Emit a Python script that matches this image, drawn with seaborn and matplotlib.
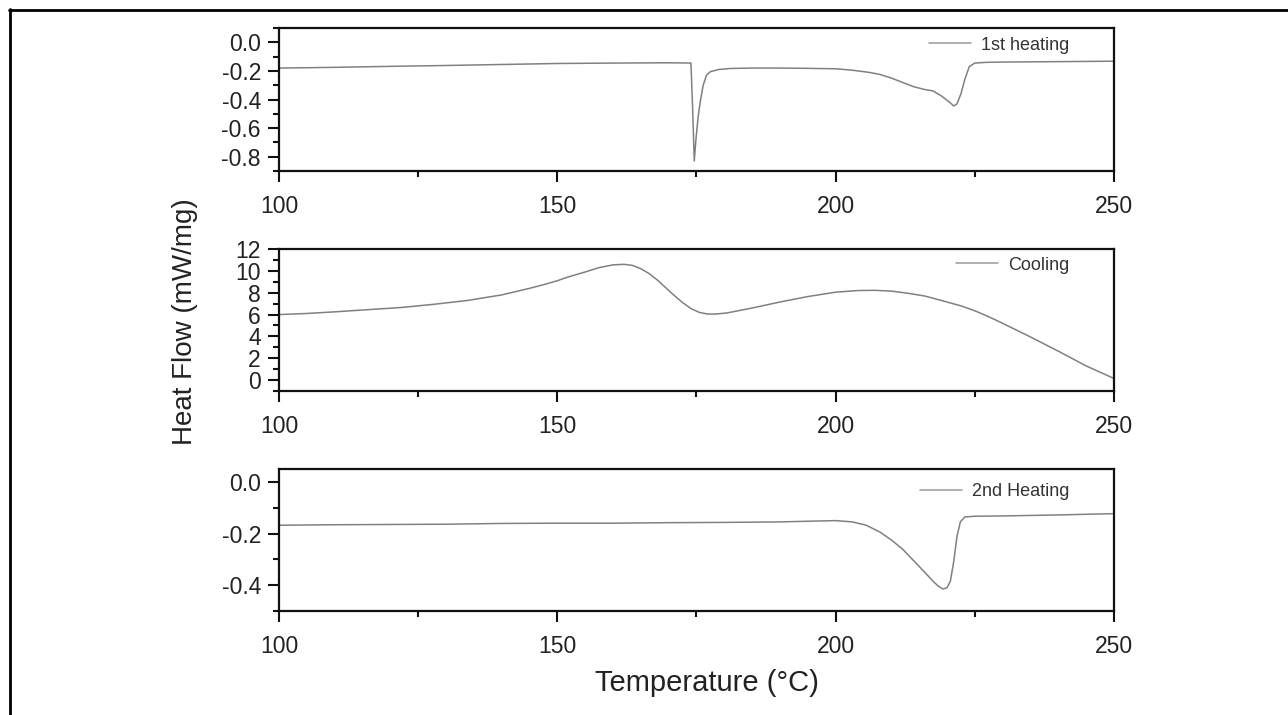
import matplotlib
matplotlib.use("Agg")
import matplotlib.pyplot as plt
from matplotlib.lines import Line2D
from matplotlib.ticker import MultipleLocator, FormatStrFormatter
import seaborn as sns
import pandas as pd

# ---------------- data ----------------
heat1_T = [100, 110, 120, 130, 140, 150, 160, 170, 174.0, 174.3, 174.6, 174.9, 175.3,
           175.7, 176.2, 176.8, 177.5, 179, 181, 185, 190, 195, 200, 203, 206, 208,
           210, 212, 214, 216, 217.5, 219, 220.5, 221.2, 221.8, 222.5, 223.2, 224,
           225, 227, 230, 240, 250]
heat1_HF = [-0.18, -0.175, -0.168, -0.162, -0.155, -0.148, -0.145, -0.143, -0.145, -0.45,
            -0.83, -0.68, -0.52, -0.41, -0.30, -0.23, -0.205, -0.19, -0.183, -0.18, -0.18,
            -0.182, -0.185, -0.195, -0.21, -0.225, -0.25, -0.28, -0.31, -0.33, -0.34,
            -0.375, -0.42, -0.445, -0.43, -0.36, -0.26, -0.17, -0.145, -0.14, -0.138,
            -0.135, -0.132]

cool_T = [100, 105, 110, 116, 122, 128, 134, 140, 145, 148, 150, 152, 155, 157.5, 160,
          162, 163.5, 165, 166.5, 168, 169.5, 171, 172.5, 174, 175.5, 177, 178.5, 180.5,
          185, 190, 195, 200, 204, 207, 210, 213, 216, 220, 222.5, 225, 227.5, 230, 235,
          240, 245, 250]
cool_HF = [6.0, 6.1, 6.25, 6.45, 6.65, 6.95, 7.3, 7.8, 8.4, 8.8, 9.1, 9.45, 9.9, 10.3,
           10.55, 10.6, 10.5, 10.2, 9.75, 9.15, 8.45, 7.75, 7.1, 6.55, 6.2, 6.05, 6.05,
           6.15, 6.6, 7.15, 7.65, 8.05, 8.2, 8.22, 8.15, 7.95, 7.7, 7.15, 6.8, 6.35, 5.8,
           5.2, 3.95, 2.65, 1.3, 0.15]

heat2_T = [100, 110, 120, 130, 140, 150, 160, 170, 180, 190, 196, 200, 203, 205.5, 208,
           210, 212, 214, 216, 217.5, 218.5, 219.3, 220, 220.6, 221.2, 221.8, 222.4,
           223.2, 225, 230, 240, 250]
heat2_HF = [-0.168, -0.166, -0.165, -0.164, -0.161, -0.160, -0.160, -0.158, -0.157,
            -0.155, -0.152, -0.150, -0.155, -0.168, -0.195, -0.225, -0.26, -0.305,
            -0.35, -0.385, -0.405, -0.415, -0.41, -0.385, -0.31, -0.21, -0.155, -0.136,
            -0.133, -0.132, -0.128, -0.123]

series_names = ["1st heating", "Cooling", "2nd Heating"]
x_ticks = [100, 150, 200, 250]

# ---------------- style ----------------
sns.set_theme(style="ticks")
plt.rcParams["font.family"] = ["Liberation Sans", "DejaVu Sans"]
plt.rcParams["axes.unicode_minus"] = False

TXT = "#222222"
LINE = "#808080"

fig = plt.figure(figsize=(12.88, 7.15), dpi=100)
fig.patch.set_facecolor("white")

positions = [
    [0.2166, 0.7608, 0.6483, 0.2000],
    [0.2166, 0.4531, 0.6483, 0.1986],
    [0.2166, 0.1455, 0.6483, 0.1986],
]
data = [(heat1_T, heat1_HF), (cool_T, cool_HF), (heat2_T, heat2_HF)]
ylims = [(-0.9, 0.1), (-1, 12), (-0.5, 0.05)]
ymaj = [0.2, 2, 0.2]
ymin_ = [0.1, 1, 0.1]
yfmt = ["%.1f", "%d", "%.1f"]
leg_y = [0.881, 0.887, 0.838]

for i in range(3):
    ax = fig.add_axes(positions[i])
    T, HF = data[i]
    df = pd.DataFrame({"T": T, "HF": HF})
    sns.lineplot(data=df, x="T", y="HF", ax=ax, color=LINE, linewidth=1.1,
                 label=series_names[i])
    ax.set_xlim(100, 250)
    ax.set_ylim(*ylims[i])
    ax.set_xticks(x_ticks)
    ax.xaxis.set_minor_locator(MultipleLocator(25))
    ax.yaxis.set_major_locator(MultipleLocator(ymaj[i]))
    ax.yaxis.set_minor_locator(MultipleLocator(ymin_[i]))
    ax.yaxis.set_major_formatter(FormatStrFormatter(yfmt[i]))
    ax.set_xlabel("")
    ax.set_ylabel("")
    for sp in ax.spines.values():
        sp.set_visible(True)
        sp.set_linewidth(1.6)
        sp.set_color("#111111")
    ax.tick_params(axis="both", which="major", direction="out", length=8, width=1.5,
                   colors="#111111", labelcolor=TXT)
    ax.tick_params(axis="x", which="major", labelsize=16.5, pad=9)
    ax.tick_params(axis="y", which="major", labelsize=16.5, pad=5)
    ax.tick_params(axis="both", which="minor", direction="out", length=4, width=1.5,
                   colors="#111111")
    ax.tick_params(top=False, right=False, which="both")
    leg = ax.legend(loc="center right", bbox_to_anchor=(0.947, leg_y[i]),
                    frameon=False, fontsize=13, handlelength=2.3, handletextpad=0.6,
                    borderpad=0, borderaxespad=0)
    for t in leg.get_texts():
        t.set_color("#333333")
    for h in leg.get_lines():
        h.set_color("#9a9a9a")
        h.set_linewidth(1.1)

fig.text(185 / 1288, 1 - 322 / 715, "Heat Flow (mW/mg)", rotation=90, fontsize=20,
         color=TXT, ha="center", va="center")
fig.text(707 / 1288, 1 - 683 / 715, "Temperature (°C)", fontsize=21, color=TXT,
         ha="center", va="center")

# figure frame lines (top and left)
fig.add_artist(Line2D([9 / 1288, 1.0], [1 - 10 / 715, 1 - 10 / 715],
                      transform=fig.transFigure, color="black", linewidth=2))
fig.add_artist(Line2D([10 / 1288, 10 / 1288], [0.0, 1 - 9 / 715],
                      transform=fig.transFigure, color="black", linewidth=2))

fig.savefig("out.png", dpi=100, facecolor="white")
